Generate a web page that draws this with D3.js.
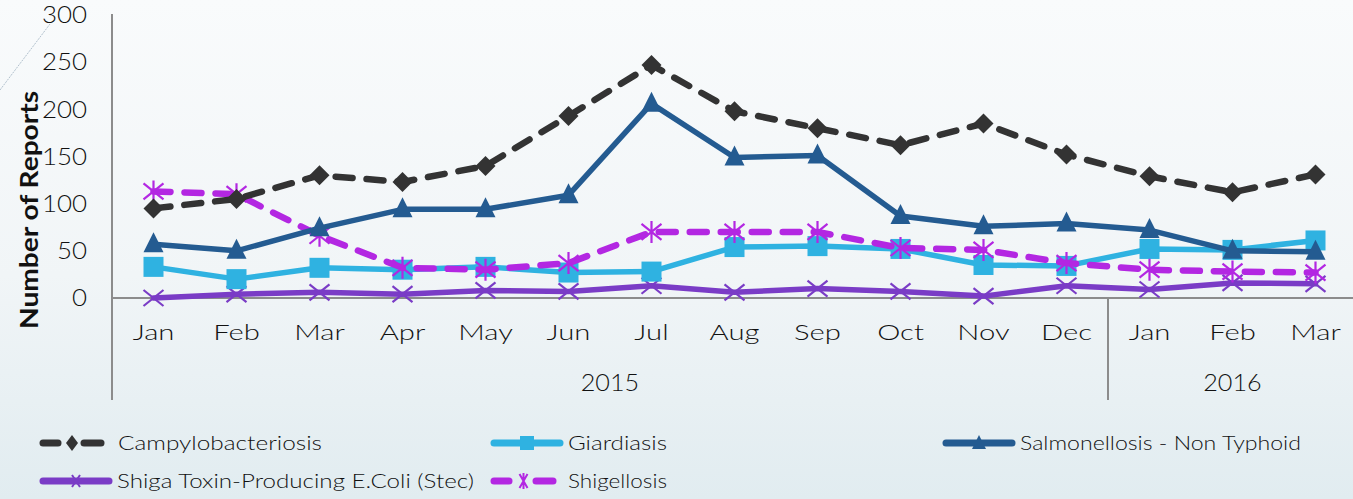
<!DOCTYPE html>
<html><head><meta charset="utf-8">
<script src="https://cdn.jsdelivr.net/npm/d3@7"></script>
<style>
html,body{margin:0;padding:0;}
body{width:1353px;height:499px;overflow:hidden;}
text{font-family:"Lato","Open Sans",sans-serif;fill:#111;font-weight:300;}
</style></head>
<body><svg id="c" width="1353" height="499"></svg>
<script>
const months = ["Jan","Feb","Mar","Apr","May","Jun","Jul","Aug","Sep","Oct","Nov","Dec","Jan","Feb","Mar"];
const years = [{label:"2015", n:12},{label:"2016", n:3}];
const yTicks = [0,50,100,150,200,250,300];
const campylobacteriosis = [95,105,130,123,140,193,247,198,180,162,185,152,129,112,131];
const giardiasis = [33,20,32,30,33,27,28,54,55,52,35,34,52,51,61];
const salmonellosis = [57,50,74,94,94,109,206,149,151,87,76,79,72,50,49];
const shiga = [0,4,6,4,8,7,13,6,10,7,2,13,9,16,15];
const shigellosis = [113,110,66,32,30,37,70,70,70,53,51,37,30,28,27];

const series = [
  {name:"Campylobacteriosis", values:campylobacteriosis, color:"#333333", dash:"17 14", marker:"diamond"},
  {name:"Giardiasis", values:giardiasis, color:"#2fb2e1", dash:null, marker:"square"},
  {name:"Salmonellosis - Non Typhoid", values:salmonellosis, color:"#245b91", dash:null, marker:"triangle"},
  {name:"Shiga Toxin-Producing E.Coli (Stec)", values:shiga, color:"#7a3cc6", dash:null, marker:"x"},
  {name:"Shigellosis", values:shigellosis, color:"#b327e2", dash:"17 14", marker:"star"}
];

(function(){
const svg = d3.select("#c");
function widen(sel, f){
  sel.each(function(){
    const w = this.getComputedTextLength();
    d3.select(this).attr("textLength", w*f).attr("lengthAdjust","spacingAndGlyphs");
  });
}
const defs = svg.append("defs");
const grad = defs.append("linearGradient").attr("id","bg").attr("x1",0).attr("y1",0).attr("x2",0).attr("y2",1);
grad.append("stop").attr("offset","0%").attr("stop-color","#f9fbfc");
grad.append("stop").attr("offset","55%").attr("stop-color","#f1f5f7");
grad.append("stop").attr("offset","100%").attr("stop-color","#e1ecf0");
svg.append("rect").attr("width",1353).attr("height",499).attr("fill","url(#bg)");

svg.append("line").attr("x1",0).attr("y1",90).attr("x2",50).attr("y2",24)
  .attr("stroke","#9fb3c2").attr("stroke-width",0.8).attr("stroke-dasharray","2 1");

const pLeft = 112, pRight = 1357, pTop = 15, zeroY = 298;
const x = d3.scaleBand().domain(d3.range(months.length)).range([pLeft,pRight]);
const y = d3.scaleLinear().domain([0,300]).range([zeroY, pTop]);
const cx = i => x(i) + x.bandwidth()/2;

const ya = svg.append("g").attr("transform",`translate(${pLeft},0)`)
  .call(d3.axisLeft(y).tickValues(yTicks).tickSize(0).tickPadding(25));
ya.select(".domain").remove();
ya.selectAll("text").attr("font-family",null).style("font-size","24px").attr("fill","#111");
widen(ya.selectAll("text"), 1.08);

svg.append("line").attr("x1",pLeft).attr("x2",1353).attr("y1",zeroY).attr("y2",zeroY).attr("stroke","#8c8c8c").attr("stroke-width",2);
svg.append("line").attr("x1",pLeft).attr("x2",pLeft).attr("y1",14).attr("y2",400).attr("stroke","#8c8c8c").attr("stroke-width",2);

const xa = svg.append("g").attr("transform",`translate(0,${zeroY})`)
  .call(d3.axisBottom(x).tickFormat(i=>months[i]).tickSize(0).tickPadding(26));
xa.select(".domain").remove();
xa.selectAll("text").attr("font-family",null).style("font-size","22px").attr("fill","#111");
widen(xa.selectAll("text"), 1.33);

let start = 0;
years.forEach((yr,k)=>{
  const x0 = x(start), x1 = x(start+yr.n-1)+x.bandwidth();
  const t = svg.append("text").attr("x",(x0+x1)/2).attr("y",391)
    .attr("text-anchor","middle").style("font-size","24px").text(yr.label);
  widen(t, 1.05);
  if (k>0) svg.append("line").attr("x1",x0).attr("x2",x0).attr("y1",zeroY).attr("y2",400).attr("stroke","#8c8c8c").attr("stroke-width",2);
  start += yr.n;
});

const yt = svg.append("text").attr("transform","translate(38,210) rotate(-90)").attr("text-anchor","middle")
  .style("font-size","24px").style("font-weight","bold").text("Number of Reports");
widen(yt, 1.17);

function drawMarker(g, type, color, px, py){
  if (type==="diamond"){
    g.append("path").attr("d",`M${px},${py-10}L${px+10},${py}L${px},${py+10}L${px-10},${py}Z`).attr("fill",color);
  } else if (type==="square"){
    g.append("rect").attr("x",px-10).attr("y",py-10).attr("width",20).attr("height",20).attr("fill",color);
  } else if (type==="triangle"){
    g.append("path").attr("d",`M${px},${py-12}L${px+10},${py+8}L${px-10},${py+8}Z`).attr("fill",color);
  } else if (type==="x"){
    g.append("path").attr("d",`M${px-10},${py-8}L${px+10},${py+8}M${px-10},${py+8}L${px+10},${py-8}`).attr("stroke",color).attr("stroke-width",2.2);
  } else if (type==="star"){
    g.append("path").attr("d",`M${px-10},${py-8}L${px+10},${py+8}M${px-10},${py+8}L${px+10},${py-8}M${px},${py-11}L${px},${py+11}`).attr("stroke",color).attr("stroke-width",2.2);
  }
}

const line = d3.line().x((d,i)=>cx(i)).y(d=>y(d));
const order = [3,1,4,2,0];
order.forEach(si=>{
  const s = series[si];
  const g = svg.append("g");
  g.append("path").datum(s.values).attr("d",line).attr("fill","none")
    .attr("stroke",s.color).attr("stroke-width",s.dash?6.5:5.5).attr("stroke-linecap","round")
    .attr("stroke-linejoin","round").attr("stroke-dasharray",s.dash);
  s.values.forEach((v,i)=>drawMarker(g,s.marker,s.color,cx(i),y(v)));
});

const legendPos = [
  {lx:40, lw:64, tx:118, ty:443, w:204},
  {lx:491, lw:72, tx:568, ty:443, w:99},
  {lx:943, lw:72, tx:1020, ty:443, w:281},
  {lx:40, lw:72, tx:117, ty:481, w:357},
  {lx:491, lw:65, tx:568, ty:481, w:99}
];
series.forEach((s,k)=>{
  const p = legendPos[k];
  const g = svg.append("g");
  if (s.dash){
    g.append("line").attr("x1",p.lx+3).attr("x2",p.lx+18).attr("y1",p.ty).attr("y2",p.ty).attr("stroke",s.color).attr("stroke-width",7).attr("stroke-linecap","round");
    g.append("line").attr("x1",p.lx+p.lw-20).attr("x2",p.lx+p.lw-3).attr("y1",p.ty).attr("y2",p.ty).attr("stroke",s.color).attr("stroke-width",7).attr("stroke-linecap","round");
  } else {
    g.append("line").attr("x1",p.lx+3).attr("x2",p.lx+p.lw-3).attr("y1",p.ty).attr("y2",p.ty).attr("stroke",s.color).attr("stroke-width",7).attr("stroke-linecap","round");
  }
  const mx = p.lx + p.lw/2;
  if (s.marker==="diamond") g.append("path").attr("d",`M${mx},${p.ty-8}L${mx+6},${p.ty}L${mx},${p.ty+8}L${mx-6},${p.ty}Z`).attr("fill",s.color);
  else if (s.marker==="square") g.append("rect").attr("x",mx-7).attr("y",p.ty-7).attr("width",14).attr("height",14).attr("fill",s.color);
  else if (s.marker==="triangle") g.append("path").attr("d",`M${mx},${p.ty-8}L${mx+7},${p.ty+6}L${mx-7},${p.ty+6}Z`).attr("fill",s.color);
  else if (s.marker==="x") g.append("path").attr("d",`M${mx-4},${p.ty-6}L${mx+4},${p.ty+6}M${mx-4},${p.ty+6}L${mx+4},${p.ty-6}`).attr("stroke",s.color).attr("stroke-width",2);
  else if (s.marker==="star") g.append("path").attr("d",`M${mx-4},${p.ty-7}L${mx+4},${p.ty+7}M${mx-4},${p.ty+7}L${mx+4},${p.ty-7}M${mx},${p.ty-8}L${mx},${p.ty+8}`).attr("stroke",s.color).attr("stroke-width",2);
  g.append("text").attr("x",p.tx).attr("y",p.ty).attr("dy","0.36em").style("font-size","20px").attr("fill","#1a1a1a")
    .attr("textLength",p.w).attr("lengthAdjust","spacingAndGlyphs").text(s.name);
});
})();
</script></body></html>
